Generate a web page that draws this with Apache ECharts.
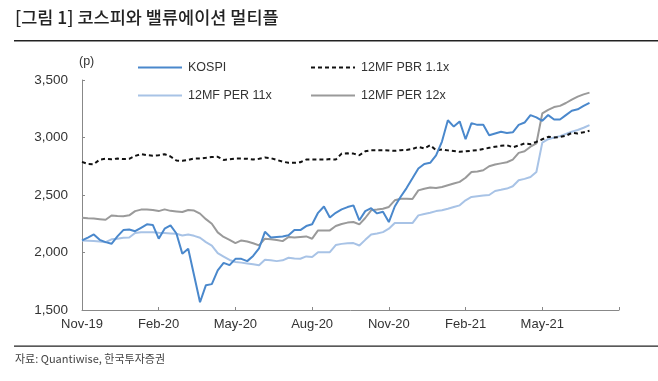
<!DOCTYPE html>
<html><head><meta charset="utf-8">
<script src="https://cdn.jsdelivr.net/npm/echarts@6/dist/echarts.min.js"></script>
<style>html,body{margin:0;padding:0;background:#fff}#c{width:658px;height:381px}</style>
</head><body><div id="c"></div>
<script>
var tickLabels = ['Nov-19','Feb-20','May-20','Aug-20','Nov-20','Feb-21','May-21','Aug-21'];
var weeksPerTick = 13;
var totalSlots = 92;

var kospi = [2105,2130,2157,2110,2090,2076,2140,2195,2200,2185,2215,2245,2240,2120,2207,2236,2165,1990,2032,1800,
 1567,1716,1725,1845,1910,1890,1945,1945,1925,1970,2035,2180,2130,2135,2140,2150,2195,2195,2230,2245,
 2345,2400,2305,2345,2375,2395,2410,2280,2360,2385,2340,2355,2265,2400,2485,2560,2645,2730,2770,2780,
 2845,2965,3150,3095,3140,2985,3125,3110,3110,3020,3035,3050,3040,3045,3110,3130,3195,3175,3145,3195,
 3157,3157,3195,3233,3245,3275,3302];
var pbr11 = [2788,2770,2768,2808,2815,2810,2817,2812,2815,2840,2855,2846,2842,2845,2855,2835,2800,2797,2805,2817,
 2817,2823,2830,2832,2805,2810,2817,2817,2815,2808,2815,2826,2820,2805,2790,2780,2780,2785,2808,2808,
 2808,2808,2812,2808,2860,2862,2860,2846,2880,2890,2890,2890,2888,2884,2890,2892,2900,2919,2905,2933,
 2890,2896,2888,2882,2876,2880,2885,2890,2900,2910,2919,2928,2933,2915,2930,2948,2942,2962,2985,3006,
 3000,3005,3015,3040,3035,3045,3058];
var per11 = [2105,2102,2099,2095,2090,2115,2120,2128,2130,2170,2177,2177,2177,2172,2169,2166,2163,2148,2157,2145,
 2128,2090,2060,1995,1965,1935,1918,1912,1905,1898,1890,1937,1932,1925,1932,1954,1948,1946,1966,1960,
 2003,2003,2003,2065,2075,2080,2082,2061,2110,2157,2165,2177,2207,2256,2256,2256,2256,2323,2335,2345,
 2360,2367,2380,2395,2410,2454,2483,2489,2495,2500,2535,2545,2556,2576,2628,2640,2657,2700,2955,2985,
 3000,3012,3030,3050,3065,3085,3108];
var per12 = [2303,2298,2295,2290,2285,2322,2318,2315,2323,2360,2373,2373,2370,2360,2375,2362,2357,2352,2370,2365,
 2338,2290,2250,2175,2135,2110,2082,2105,2095,2080,2062,2120,2115,2108,2099,2135,2130,2135,2140,2120,
 2192,2192,2192,2230,2248,2260,2265,2245,2300,2367,2373,2380,2396,2454,2468,2467,2465,2540,2555,2565,
 2560,2570,2585,2600,2614,2650,2700,2705,2715,2750,2765,2775,2785,2808,2866,2880,2920,2948,3210,3240,
 3265,3275,3300,3330,3355,3375,3390];

var cats = [];
for (var i = 0; i < totalSlots; i++) cats.push(String(i));

var chart = echarts.init(document.getElementById('c'));
var txt = '#333';
var font = '"Liberation Sans", Arial, sans-serif';
function mkLegend(name, left, top) {
  return {data:[name], left:left, top:top, itemWidth:44, itemHeight:10, itemGap:0,
    itemStyle:{opacity:0},
    textStyle:{color:txt, fontSize:12.5, fontFamily:font, padding:[0,0,0,1]}, padding:0, selectedMode:false};
}
chart.setOption({
  animation:false,
  backgroundColor:'#fff',
  grid:{left:82, right:39, top:80, bottom:71},
  legend:[mkLegend('KOSPI',137,61), mkLegend('12MF PBR 1.1x',310,61), mkLegend('12MF PER 11x',137,89), mkLegend('12MF PER 12x',310,89)],
  xAxis:{type:'category', data:cats, boundaryGap:false,
    axisLine:{lineStyle:{color:'#888', width:1}},
    axisTick:{inside:true, length:3, lineStyle:{color:'#888'}, interval:function(i){return i % weeksPerTick === 0;}},
    axisLabel:{interval:function(i){return i % weeksPerTick === 0 && i < totalSlots-1;}, color:txt, fontSize:13, fontFamily:font, margin:8,
      formatter:function(v){var i=+v; return tickLabels[i/weeksPerTick] || '';}},
    splitLine:{show:false}},
  yAxis:{type:'value', min:1500, max:3500, interval:500,
    axisLine:{show:true, lineStyle:{color:'#888', width:1}},
    axisTick:{show:true, inside:true, length:3, lineStyle:{color:'#888'}},
    axisLabel:{color:txt, fontSize:13.5, fontFamily:font, margin:14, formatter:function(v){return v.toLocaleString('en-US');}},
    splitLine:{show:false}},
  series:[
    {name:'KOSPI', type:'line', data:kospi, symbol:'none', z:5, lineStyle:{color:'#4a88cc', width:2}, itemStyle:{color:'#4a88cc'}},
    {name:'12MF PBR 1.1x', type:'line', data:pbr11, symbol:'none', z:4, lineStyle:{color:'#111', width:2, type:[4,3]}, itemStyle:{color:'#111'}},
    {name:'12MF PER 11x', type:'line', data:per11, symbol:'none', z:3, lineStyle:{color:'#a8c3e6', width:2}, itemStyle:{color:'#a8c3e6'}},
    {name:'12MF PER 12x', type:'line', data:per12, symbol:'none', z:3, lineStyle:{color:'#9a9a9a', width:2}, itemStyle:{color:'#9a9a9a'}}
  ],
  graphic:[
    {type:'text', left:15, top:9, style:{text:'[그림 1] 코스피와 밸류에이션 멀티플', font:'500 17.5px "Noto Sans CJK KR", sans-serif', fill:'#222'}},
    {type:'rect', shape:{x:14, y:40, width:644, height:1.5}, style:{fill:'#222'}},
    {type:'text', left:79, top:55, style:{text:'(p)', font:'12.5px "Liberation Sans", Arial, sans-serif', fill:txt}},
    {type:'rect', shape:{x:14, y:345.5, width:644, height:1.2}, style:{fill:'#222'}},
    {type:'text', left:15, top:353, style:{text:'자료: Quantiwise, 한국투자증권', font:'11px "Noto Sans CJK KR", sans-serif', fill:'#444'}}
  ]
});
</script></body></html>
